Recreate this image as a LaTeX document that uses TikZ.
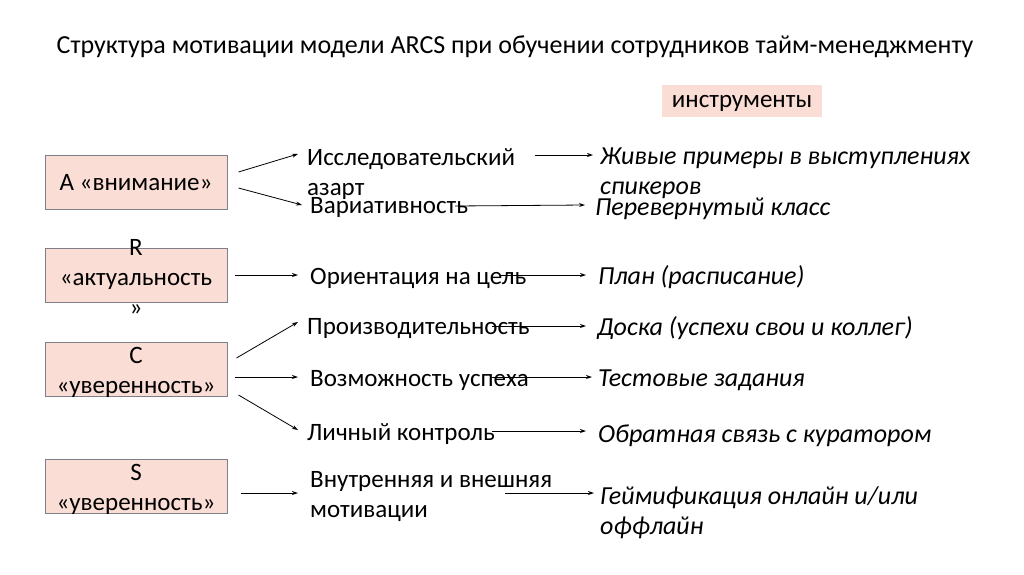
\documentclass[tikz,border=0pt]{standalone}
\usepackage{fontspec}
\setmainfont{Carlito}
\usetikzlibrary{arrows.meta}
\definecolor{boxpink}{HTML}{FADDD4}
\definecolor{boxline}{HTML}{7F7F8C}
\newcommand{\bodysize}{\fontsize{25}{30}\selectfont}
\tikzset{
  part/.style={draw=boxline,fill=boxpink,line width=1pt,minimum width=182pt,minimum height=54pt,inner sep=0pt},
  means/.style={anchor=west,align=left,inner sep=0pt},
  tool/.style={anchor=west,align=left,inner sep=0pt,font=\fontsize{26}{30}\selectfont\itshape},
  arr/.style={-{Stealth[length=6pt,width=4pt]},line width=0.8pt}
}
\begin{document}
\begin{tikzpicture}[x=1pt,y=-1pt,font=\bodysize]
  \useasboundingbox (0,0) rectangle (1024,574);
  \node (title) at (515,47) {\fontsize{26}{30}\selectfont Структура мотивации модели ARCS при обучении сотрудников тайм-менеджменту};
  \node[fill=boxpink,minimum width=160pt,minimum height=32pt,inner sep=0pt,text depth=0pt] (tools) at (742,101) {инструменты};
  % left column
  \node[part,label={[name=atext,yshift=-1pt]center:А «внимание»}] (a) at (136,182) {};
  \node[part,label={[name=rtext,align=center,yshift=-2pt]center:R\\«актуальность\\»}] (r) at (136,275) {};
  \node[part,label={[name=ctext,align=center,yshift=-3pt]center:C\\«уверенность»}] (c) at (136,369.5) {};
  \node[part,label={[name=stext,align=center,yshift=-3.5pt]center:S\\«уверенность»}] (s) at (136,486) {};
  % middle column
  \node[means] (a1) at (307,174) {Исследовательский\\азарт};
  \node[means] (a2) at (310,207) {Вариативность};
  \node[means] (r1) at (310,278) {Ориентация на цель};
  \node[means] (c1) at (307,329) {Производительность};
  \node[means] (c2) at (310,380) {Возможность успеха};
  \node[means] (c3) at (307,434) {Личный контроль};
  \node[means] (s1) at (310,496.5) {Внутренняя и внешняя\\мотивации};
  % right column
  \node[tool] (t1) at (600,173.5) {Живые примеры в выступлениях\\спикеров};
  \node[tool] (t2) at (595,209) {Перевернутый класс};
  \node[tool] (t3) at (598,277) {План (расписание)};
  \node[tool] (t4) at (597,328) {Доска (успехи свои и коллег)};
  \node[tool] (t5) at (598,380) {Тестовые задания};
  \node[tool] (t6) at (598,436) {Обратная связь с куратором};
  \node[tool] (t7) at (600,513) {Геймификация онлайн и/или\\оффлайн};
  % arrows
  \draw[arr] ([xshift=11,yshift=10]a.east) -- ([xshift=-9,yshift=20]a1.west);
  \draw[arr] ([xshift=11,yshift=-6]a.east) -- ([xshift=-8,yshift=2]a2.west);
  \draw[arr] ([xshift=228,yshift=19]a1.west) -- ([xshift=-7,yshift=18.5]t1.west);
  \draw[arr] ([xshift=145,yshift=1]a2.west) -- ([xshift=-10,yshift=4]t2.west);
  \draw[arr] ([xshift=7]r.east) -- ([xshift=-12,yshift=3]r1.west);
  \draw[arr] ([xshift=190,yshift=3]r1.west) -- ([xshift=-12,yshift=2]t3.west);
  \draw[arr] ([xshift=9,yshift=11.5]c.east) -- ([xshift=-9,yshift=7]c1.west);
  \draw[arr] ([xshift=7,yshift=-7.5]c.east) -- ([xshift=-12,yshift=3]c2.west);
  \draw[arr] ([xshift=11,yshift=-25.5]c.east) -- ([xshift=-9,yshift=4]c3.west);
  \draw[arr] ([xshift=185,yshift=3]c1.west) -- ([xshift=-11,yshift=2]t4.west);
  \draw[arr] ([xshift=182,yshift=3]c2.west) -- ([xshift=-6,yshift=3]t5.west);
  \draw[arr] ([xshift=185,yshift=3]c3.west) -- ([xshift=-12,yshift=5]t6.west);
  \draw[arr] ([xshift=13,yshift=-7]s.east) -- ([xshift=-12,yshift=3.5]s1.west);
  \draw[arr] ([xshift=195,yshift=3.5]s1.west) -- ([xshift=-6,yshift=20]t7.west);
\end{tikzpicture}
\end{document}
